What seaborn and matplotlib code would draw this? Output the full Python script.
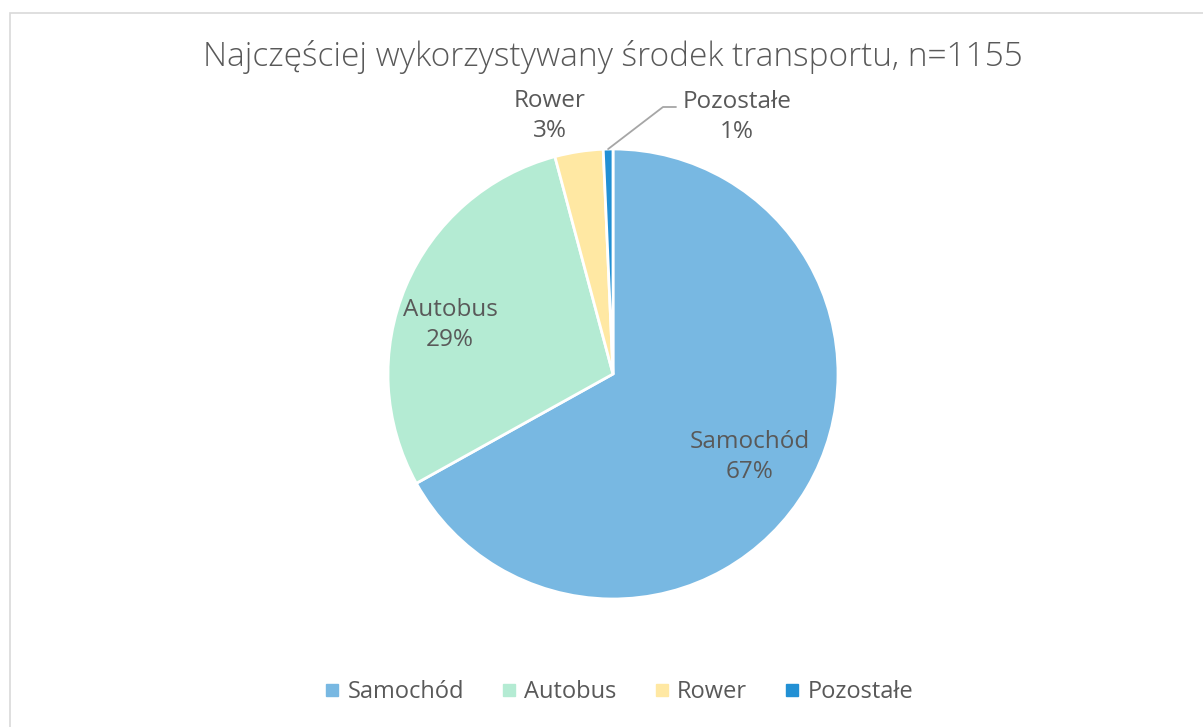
import seaborn as sns
import matplotlib.pyplot as plt
import matplotlib.patches as mpatches
from matplotlib.lines import Line2D
import numpy as np

# data
categories = ["Samochód", "Autobus", "Rower", "Pozostałe"]
counts = [773, 334, 40, 8]
colors = ["#78B8E2", "#B4EBD3", "#FFE8A3", "#2290D4"]
title = "Najczęściej wykorzystywany środek transportu, n=1155"

sns.set_theme(style="white")
plt.rcParams["font.family"] = ["Open Sans", "DejaVu Sans"]
text_color = "#595959"

fig = plt.figure(figsize=(12.03, 7.27), dpi=100)
W, H = 1203, 727

# chart frame
fig.patches.append(mpatches.Rectangle((9.5 / W, -0.1), 1.2, (H - 12.5) / H + 0.1,
                                      transform=fig.transFigure, fill=False,
                                      edgecolor="#D9D9D9", linewidth=1.2))

cx, cy, r = 613, 727 - 374, 225
ax = fig.add_axes([(cx - r) / W, (cy - r) / H, 2 * r / W, 2 * r / H])
palette = sns.color_palette(colors)
wedges, _ = ax.pie(counts, colors=palette, startangle=90, counterclock=False,
                   radius=1, wedgeprops=dict(edgecolor="white", linewidth=2))
ax.set_xlim(-1, 1)
ax.set_ylim(-1, 1)
ax.set_aspect("equal")
ax.axis("off")

total = sum(counts)
pcts = [round(c / total * 100) for c in counts]

# label positions (pixel coords in figure, from top-left)
label_pos = [(750, 457), (450, 325), (550, 116), (737, 117)]
for cat, p, (lx, ly) in zip(categories, pcts, label_pos):
    fig.text(lx / W, 1 - ly / H, f"{cat}\n{p}%", ha="center", va="center",
             fontsize=17.5, color=text_color, linespacing=1.3)

# leader line for the small slice
w = wedges[3]
mid = np.deg2rad((w.theta1 + w.theta2) / 2)
ax.plot([np.cos(mid), (663 - cx) / r, (676 - cx) / r],
        [np.sin(mid), (374 - 107) / r, (374 - 107) / r],
        color="#A6A6A6", linewidth=1.3, clip_on=False)

fig.text(613 / W, 1 - 57 / H, title, ha="center", va="center",
         fontsize=24, color=text_color, fontweight="light")

handles = [Line2D([0], [0], marker="s", linestyle="", markersize=8,
                  markerfacecolor=c, markeredgecolor=c) for c in palette]
fig.legend(handles, categories, loc="center", ncol=4,
           bbox_to_anchor=(618 / W, 1 - 692 / H), frameon=False,
           fontsize=17, labelcolor=text_color, handletextpad=0.25,
           columnspacing=1.5, handlelength=0.8)

fig.savefig("out.png", dpi=100)
